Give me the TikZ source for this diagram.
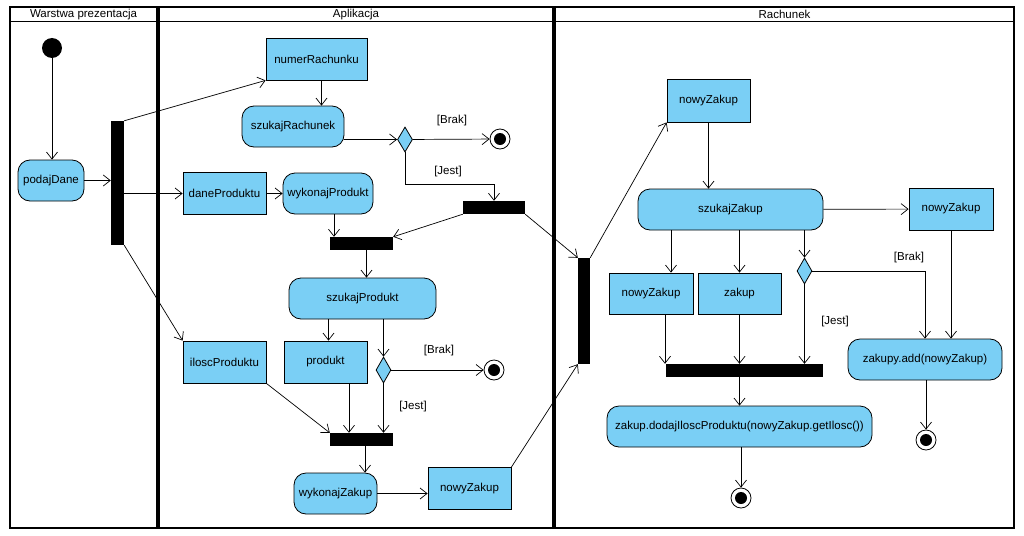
\documentclass[tikz,border=0pt]{standalone}
\usepackage{fontspec}
\setmainfont{Liberation Sans}
\usepackage{tikz}
\usetikzlibrary{arrows.meta,calc,shapes.geometric}
\definecolor{actblue}{RGB}{122,207,245}

\begin{document}
\begin{tikzpicture}[x=1pt,y=-1pt,font=\fontsize{11.5}{13}\selectfont,
    >={Straight Barb[length=7pt,width=11pt]},
    act/.style={draw,line width=.8pt,fill=actblue,rounded corners=12pt,minimum height=41,inner sep=0},
    obj/.style={draw,line width=.8pt,fill=actblue,minimum height=42,inner sep=0},
    bar/.style={fill=black,inner sep=0},
    dec/.style={diamond,draw,line width=.8pt,fill=actblue,minimum width=15,minimum height=25,inner sep=0},
    final/.style={circle,draw,line width=.8pt,fill=white,minimum size=20,inner sep=0,
      path picture={\fill[black] (path picture bounding box.center) circle (6pt);}},
    guard/.style={inner sep=0}]
    \useasboundingbox (0,0) rectangle (1024,535);
    \begin{scope}[line width=1.5pt]
      \draw (10,7) rectangle (157,528);
      \draw (159,7) rectangle (553,528);
      \draw (555,7) rectangle (1014,528);
      \foreach \a/\b in {10/157,159/553,555/1014}
      {
        \draw[line width=1pt] (\a,22) -- (\b,22);
      }
    \end{scope}
    \node (laneA) at (83.5,14.5) {Warstwa prezentacja};
    \node (laneB) at (356,14.5) {Aplikacja};
    \node (laneC) at (784.5,14.5) {Rachunek};

    \node[circle,fill=black,minimum size=20,inner sep=0] (start) at (52,48) {};
    \node[act,minimum width=66] (podajDane) at (51,180.5) {podajDane};
    \node[bar,minimum width=13,minimum height=124] (fork1) at (117.5,183) {};

    \node[obj,minimum width=101] (numerRachunku) at (316.5,59) {numerRachunku};
    \node[act,minimum width=102] (szukajRachunek) at (293,126.5) {szukajRachunek};
    \node[dec] (dec1) at (405,139.5) {};
    \node[final] (end1) at (500,139) {};
    \node[obj,minimum width=83] (daneProduktu) at (224.5,193.5) {daneProduktu};
    \node[act,minimum width=90] (wykonajProdukt) at (328,193.5) {wykonajProdukt};
    \node[bar,minimum width=62,minimum height=13] (join1) at (494,207.5) {};
    \node[bar,minimum width=63,minimum height=13] (join2) at (361.5,243.5) {};
    \node[act,minimum width=147] (szukajProdukt) at (362.5,298.5) {szukajProdukt};
    \node[obj,minimum width=83] (iloscProduktu) at (224.5,362) {iloscProduktu};
    \node[obj,minimum width=83] (produkt) at (325.5,362) {produkt};
    \node[dec,minimum height=26] (dec2) at (383.5,370) {};
    \node[final] (end2) at (494,370) {};
    \node[bar,minimum width=63,minimum height=13] (join3) at (361.5,439.5) {};
    \node[act,minimum width=83] (wykonajZakup) at (335.5,493.5) {wykonajZakup};
    \node[obj,minimum width=83] (nowyZakupA) at (469.5,488.5) {nowyZakup};

    \node[bar,minimum width=12,minimum height=106] (fork2) at (584,311) {};
    \node[obj,minimum width=83,minimum height=43] (nowyZakupB) at (708.5,100.5) {nowyZakup};
    \node[act,minimum width=185] (szukajZakup) at (730.5,209.5) {szukajZakup};
    \node[obj,minimum width=84] (nowyZakupC) at (951,209) {nowyZakup};
    \node[obj,minimum width=84,minimum height=41] (nowyZakupD) at (651,293.5) {nowyZakup};
    \node[obj,minimum width=83,minimum height=41] (zakup) at (739.5,293.5) {zakup};
    \node[dec,minimum height=26] (dec3) at (804.5,271) {};
    \node[bar,minimum width=157,minimum height=13] (join4) at (744.5,370.5) {};
    \node[act,minimum width=265] (zakupDodaj) at (739.5,426.5) {zakup.dodajIloscProduktu(nowyZakup.getIlosc())};
    \node[act,minimum width=154] (zakupyAdd) at (925,359.5) {zakupy.add(nowyZakup)};
    \node[final] (end3) at (741,498) {};
    \node[final] (end4) at (926,440) {};

    \node[guard] (brak1) at (452,121) {[Brak]};
    \node[guard] (jest1) at (448,172) {[Jest]};
    \node[guard] (brak2) at (439,351) {[Brak]};
    \node[guard] (jest2) at (413,407) {[Jest]};
    \node[guard] (brak3) at (909,258) {[Brak]};
    \node[guard] (jest3) at (835,322) {[Jest]};

    \begin{scope}[->,line width=.7pt]
      \draw (start) -- (start |- podajDane.north);
      \draw (podajDane) -- (podajDane -| fork1.west);
      \draw (fork1.north east) -- (numerRachunku.south west);
      \draw (fork1.east |- daneProduktu) -- (daneProduktu);
      \draw (fork1.south east) -- (iloscProduktu.north west);
      \draw ([xshift=5pt]numerRachunku.south) -- ([xshift=5pt]numerRachunku.south |- szukajRachunek.north);
      \draw (szukajRachunek.east |- dec1) -- (dec1);
      \draw (dec1) -- (end1);
      \draw (dec1.south) -- ++(0,32) -| (join1.north);
      \draw (join1.south west) -- (join2.north east);
      \draw (join1.south east) -- (fork2.north west);
      \draw (daneProduktu) -- (wykonajProdukt);
      \draw ([xshift=6pt]wykonajProdukt.south) -- ([xshift=6pt]wykonajProdukt.south |- join2.north);
      \draw ([xshift=5pt]join2.south) -- ([xshift=5pt]join2.south |- szukajProdukt.north);
      \draw ([xshift=3pt]produkt.north |- szukajProdukt.south) -- ([xshift=3pt]produkt.north);
      \draw (dec2.north |- szukajProdukt.south) -- (dec2.north);
      \draw (dec2) -- (end2);
      \draw (dec2.south) -- (dec2.south |- join3.north);
      \draw ([xshift=23.5pt]produkt.south) -- ([xshift=23.5pt]produkt.south |- join3.north);
      \draw (iloscProduktu.south east) -- (join3.north west);
      \draw ([xshift=3.5pt]join3.south) -- ([xshift=3.5pt]join3.south |- wykonajZakup.north);
      \draw (wykonajZakup) -- (wykonajZakup -| nowyZakupA.west);
      \draw (nowyZakupA.north east) -- (fork2.south west);
      \draw (fork2.north east) -- (nowyZakupB.south west);
      \draw (nowyZakupB) -- (nowyZakupB |- szukajZakup.north);
      \draw (szukajZakup) -- (nowyZakupC);
      \draw ([xshift=20pt]nowyZakupD.north |- szukajZakup.south) -- ([xshift=20pt]nowyZakupD.north);
      \draw (zakup.north |- szukajZakup.south) -- (zakup.north);
      \draw (dec3.north |- szukajZakup.south) -- (dec3.north);
      \draw (dec3) -| (zakupyAdd.north);
      \draw (nowyZakupC) -- (nowyZakupC |- zakupyAdd.north);
      \draw (dec3) -- (dec3 |- join4.north);
      \draw ([xshift=14pt]nowyZakupD.south) -- ([xshift=14pt]nowyZakupD.south |- join4.north);
      \draw (zakup) -- (zakup |- join4.north);
      \draw (zakupDodaj.north |- join4.south) -- (zakupDodaj.north);
      \draw (end3 |- zakupDodaj.south) -- (end3);
      \draw (end4 |- zakupyAdd.south) -- (end4);
    \end{scope}
  \end{tikzpicture}
\end{document}
